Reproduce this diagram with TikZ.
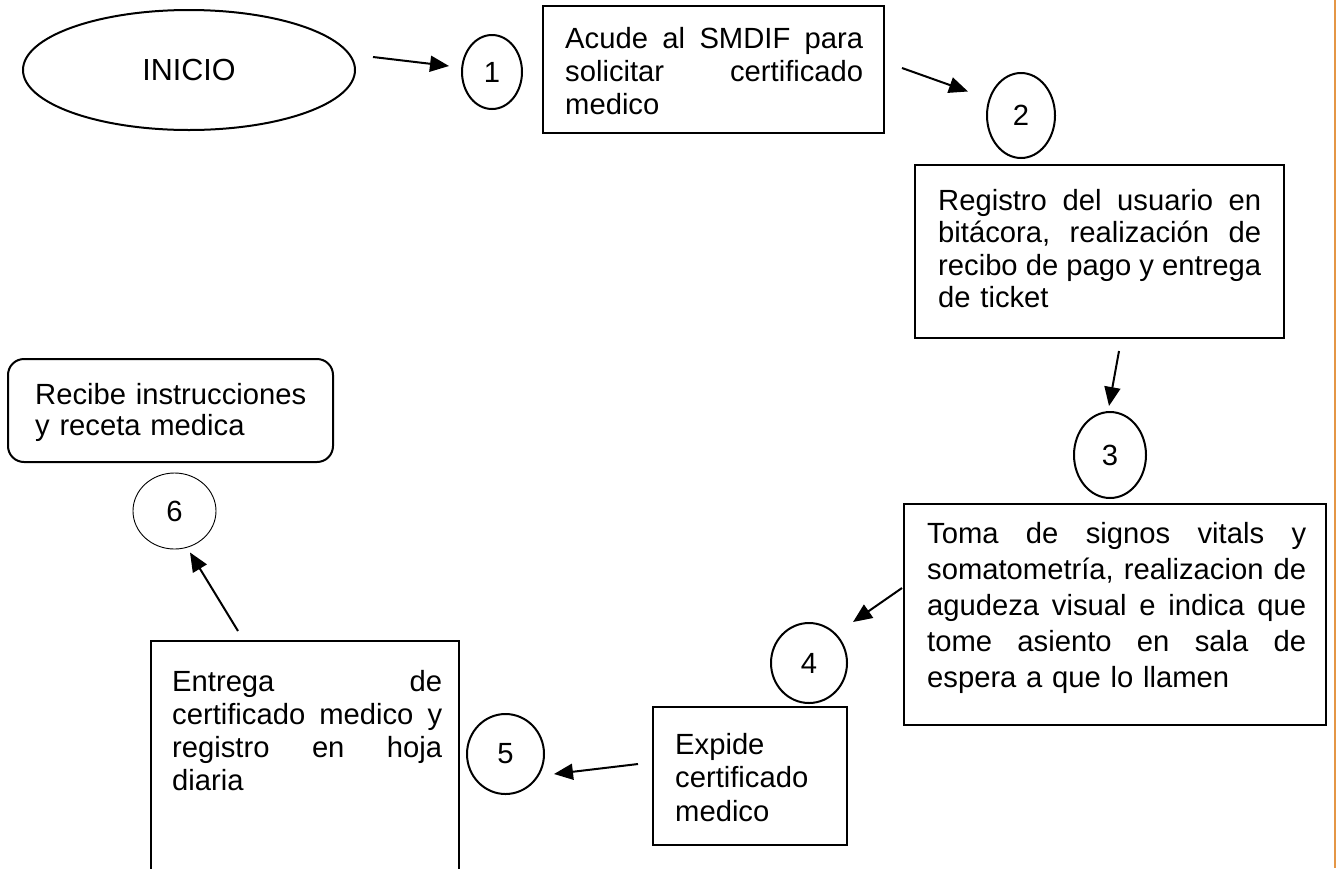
\documentclass[tikz,border=0pt]{standalone}
\usepackage{fontspec}
\setmainfont{Liberation Sans}
\usetikzlibrary{shapes.geometric,arrows.meta}
\definecolor{orangeline}{RGB}{228,150,70}
\newcommand\gap{\hspace{0.12em plus 1fill}}
\newcommand\fsz[1]{\fontsize{29.2}{#1}\selectfont}
\begin{document}
\begin{tikzpicture}[x=1pt,y=-1pt,
  box/.style={draw, rectangle, line width=2pt, inner sep=0pt},
  oval/.style={draw, ellipse, line width=2pt, inner sep=0pt, font=\fsz{33}},
  txt/.style={inner sep=0pt, anchor=base west, align=left},
  arr/.style={line width=2pt, -{Triangle[length=19pt,width=16pt]}}]
\clip (0,0) rectangle (1337,868);
\fill[white] (0,0) rectangle (1337,868);
% orange page rule
\draw[orangeline, line width=2.2pt] (1335,0) -- (1335,868);

% INICIO
\node[oval, minimum width=332, minimum height=120, font=\fontsize{30.5}{33}\selectfont] (ini) at (189,70) {INICIO};
% step 1
\node[oval, minimum width=60, minimum height=74] (c1) at (492,72) {1};
\node[box, minimum width=341, minimum height=127] (b1) at (713.5,69.5) {};
\node[txt, text width=298, font=\fsz{33}] (t1) at (565,48)
  {Acude\gap al\gap SMDIF\gap para\\solicitar\gap certificado\\medico};
% step 2
\node[oval, minimum width=68, minimum height=85] (c2) at (1021,115.5) {2};
\node[box, minimum width=369, minimum height=173] (b2) at (1099.5,251.5) {};
\node[txt, text width=323, font=\fsz{32.5}] (t2) at (938,210)
  {Registro\gap del\gap usuario\gap en\\bitácora,\gap realización\gap de\\recibo\gap de\gap pago\gap y\gap entrega\\de ticket};
% step 3
\node[oval, minimum width=72, minimum height=86] (c3) at (1110,455) {3};
\node[box, minimum width=422, minimum height=221] (b3) at (1115,614.5) {};
\node[txt, text width=379, font=\fsz{36}] (t3) at (927,543)
  {Toma\gap de\gap signos\gap vitals\gap y\\somatometría,\gap realizacion\gap de\\agudeza\gap visual\gap e\gap indica\gap que\\tome\gap asiento\gap en\gap sala\gap de\\espera a que lo llamen};
% step 4
\node[oval, minimum width=76, minimum height=80] (c4) at (809,663) {4};
\node[box, minimum width=194, minimum height=138] (b4) at (750,776) {};
\node[txt, text width=170, font=\fsz{33.5}] (t4) at (675,754)
  {Expide\\certificado\\medico};
% step 5
\node[oval, minimum width=77, minimum height=80] (c5) at (505.5,754) {5};
\node[box, minimum width=308, minimum height=260] (b5) at (305,771) {};
\node[txt, text width=270, font=\fsz{33}] (t5) at (172,691)
  {Entrega\gap de\\certificado\gap medico\gap y\\registro\gap en\gap hoja\\diaria};
% step 6
\node[draw, ellipse, line width=0.9pt, inner sep=0pt, font=\fsz{33},
  minimum width=83, minimum height=76] (c6) at (174.5,511) {6};
\node[box, rounded corners=16pt, minimum width=325, minimum height=103] (b6) at (170.5,410.5) {};
\node[txt, text width=295, font=\fsz{31}] (t6) at (35,404)
  {Recibe instrucciones\\y receta medica};

% connectors
\draw[arr] ([shift={(17,-13)}]ini.east) -- ([shift={(-12,-6)}]c1.west);
\draw[arr] ([shift={(17,-1.5)}]b1.east) -- ([shift={(-18,-24)}]c2.west);
\draw[arr] ([shift={(19.5,12)}]b2.south) -- ([shift={(-1,-5)}]c3.north);
\draw[arr] ([shift={(-1,-26.5)}]b3.west) -- ([shift={(44,-41)}]c4.center);
\draw[arr] ([shift={(-14,-12)}]b4.west) -- ([shift={(9,20)}]c5.east);
\draw[arr] ([shift={(-67,-9)}]b5.north) -- ([shift={(15.5,3)}]c6.south);
\end{tikzpicture}
\end{document}
